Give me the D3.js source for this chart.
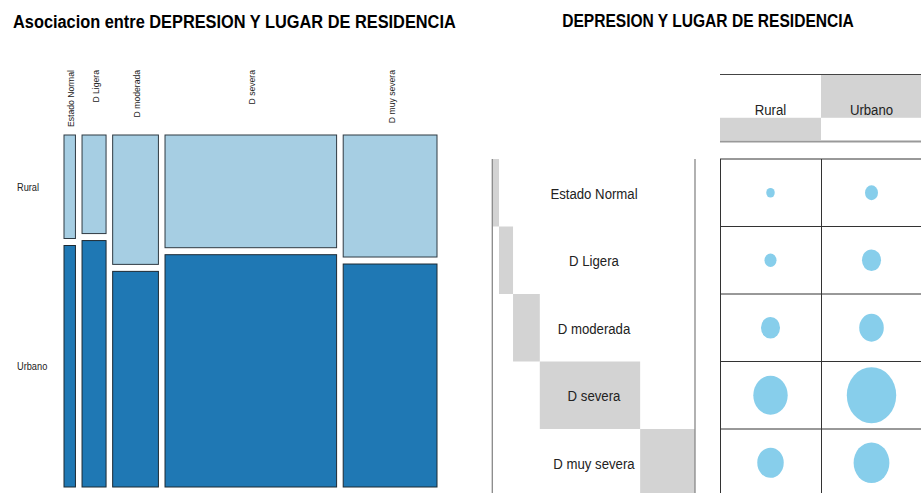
<!DOCTYPE html>
<html>
<head>
<meta charset="utf-8">
<script src="https://cdn.jsdelivr.net/npm/d3@7"></script>
<style>
  body { margin: 0; background: #fff; }
  svg { display: block; font-family: "Liberation Sans", Arial, sans-serif; }
</style>
</head>
<body>
<svg id="chart" width="921" height="493"></svg>
<script>
// depresion levels (columns of the mosaic, rows of the balloon table)
const categories = ["Estado Normal", "D Ligera", "D moderada", "D severa", "D muy severa"]
const residencia = ["Rural", "Urbano"]
// counts per level
const rural = [3, 6, 15, 49, 29]
const urbano = [7, 15, 25, 101, 53]

const svg = d3.select("#chart")
const squeeze = 0.88 // the original picture is a bit narrower than it is tall

const colTotals = categories.map((c, i) => rural[i] + urbano[i])
const total = d3.sum(colTotals)
const cum = [0].concat(Array.from(d3.cumsum(colTotals)))

//helper for narrow text (rotated text is narrowed along its length too)
const txt = (g, x, y, s, size, opts = {}) => {
    return g.append("text")
        .attr("transform", `translate(${x},${y}) ${opts.rot ? "rotate(-90) " : ""}scale(${squeeze},1)`)
        .attr("text-anchor", opts.anchor || "middle")
        .attr("dominant-baseline", opts.baseline || "auto")
        .attr("font-size", size)
        .attr("font-weight", opts.bold ? "bold" : "normal")
        .attr("fill", opts.fill || "#1a1a1a")
        .text(s)
}

// ---------------- LEFT: mosaic plot ----------------
const mx0 = 64, mx1 = 437, my0 = 135, my1 = 487, gapX = 6.6, gapY = 7
const left = svg.append("g")

txt(left, 13, 28, "Asociacion entre DEPRESION Y LUGAR DE RESIDENCIA", 18.6, {anchor: "start", bold: true, fill: "#000"})

const wScale = d3.scaleLinear().domain([0, total]).range([0, (mx1 - mx0) - gapX * (categories.length - 1)])
const hScale = d3.scaleLinear().domain([0, 1]).range([0, (my1 - my0) - gapY])

const cols = categories.map((c, i) => {
    const x = mx0 + wScale(cum[i]) + i * gapX
    const w = wScale(colTotals[i])
    const fr = rural[i] / colTotals[i]
    return {name: c, x, w, fr}
})

const cg = left.selectAll("g.col").data(cols).enter().append("g").attr("class", "col")
cg.append("rect")
    .attr("x", d => d.x).attr("y", my0)
    .attr("width", d => d.w).attr("height", d => hScale(d.fr))
    .attr("fill", "#a6cee3").attr("stroke", "#2f3a42").attr("stroke-width", 1)
cg.append("rect")
    .attr("x", d => d.x).attr("y", d => my0 + hScale(d.fr) + gapY)
    .attr("width", d => d.w).attr("height", d => hScale(1 - d.fr))
    .attr("fill", "#1f78b4").attr("stroke", "#1d2a33").attr("stroke-width", 1)

cols.forEach(d => {
    txt(left, d.x + d.w / 2 + 1.5, 70, d.name, 9.8, {rot: true, anchor: "end", baseline: "central", fill: "#222"})
})

// row labels of the mosaic
const ruralAll = d3.sum(rural) / total
txt(left, 17, my0 + hScale(ruralAll) / 2 - 6, "Rural", 10.5, {anchor: "start", baseline: "central", fill: "#222"})
txt(left, 17, my0 + hScale(ruralAll) + gapY + hScale(1 - ruralAll) / 2 - 6, "Urbano", 10.5, {anchor: "start", baseline: "central", fill: "#222"})

// ---------------- RIGHT: balloon plot ----------------
const right = svg.append("g")
txt(right, 708, 27, "DEPRESION Y LUGAR DE RESIDENCIA", 17.7, {bold: true, fill: "#000"})

const colBand = d3.scaleBand().domain(residencia).range([720, 922])
const rowBand = d3.scaleBand().domain(categories).range([159, 159 + 5 * 67.5])
const values = [rural, urbano]
const rScale = d3.scaleSqrt().domain([0, d3.max(values.flat())]).range([0, 24.7])

// column marginals (stacked grey bars in header)
const resTotals = values.map(v => d3.sum(v))
const cScale = d3.scaleLinear().domain([0, total]).range([140, 74])
const resCum = [0].concat(Array.from(d3.cumsum(resTotals)))
right.selectAll("rect.cm").data(residencia).enter().append("rect")
    .attr("class", "cm")
    .attr("x", d => colBand(d)).attr("width", colBand.bandwidth())
    .attr("y", (d, i) => cScale(resCum[i + 1]))
    .attr("height", (d, i) => cScale(resCum[i]) - cScale(resCum[i + 1]))
    .attr("fill", "#d3d3d3")

residencia.forEach(r => txt(right, colBand(r) + colBand.bandwidth() / 2, 115, r, 15, {fill: "#222"}))

right.append("line").attr("x1", 720).attr("x2", 922).attr("y1", 74.5).attr("y2", 74.5)
    .attr("stroke", "#444").attr("stroke-width", 1)
right.append("line").attr("x1", 720).attr("x2", 922).attr("y1", 141.5).attr("y2", 141.5)
    .attr("stroke", "#999").attr("stroke-width", 2)

// row marginals (staircase grey bars)
const mScale = d3.scaleLinear().domain([0, total]).range([492.3, 695])
right.selectAll("rect.rm").data(categories).enter().append("rect")
    .attr("class", "rm")
    .attr("x", (d, i) => mScale(cum[i]))
    .attr("width", (d, i) => mScale(cum[i + 1]) - mScale(cum[i]))
    .attr("y", d => rowBand(d)).attr("height", rowBand.bandwidth())
    .attr("fill", "#d3d3d3")

categories.forEach(c => txt(right, 594, rowBand(c) + rowBand.bandwidth() / 2 + 6, c, 15, {fill: "#222"}))

right.selectAll("line.rl").data([492.3, 695]).enter().append("line")
    .attr("class", "rl")
    .attr("x1", d => d).attr("x2", d => d).attr("y1", 159).attr("y2", 493)
    .attr("stroke", "#888").attr("stroke-width", 1.3)

// grid
const rowEdges = categories.map(c => rowBand(c)).concat([rowBand.range()[1]])
right.selectAll("line.h").data(rowEdges).enter().append("line")
    .attr("class", "h")
    .attr("x1", 720).attr("x2", 922).attr("y1", d => d).attr("y2", d => d)
    .attr("stroke", "#333").attr("stroke-width", 1)
right.selectAll("line.v").data(residencia).enter().append("line")
    .attr("class", "v")
    .attr("x1", d => colBand(d) + 0.5).attr("x2", d => colBand(d) + 0.5).attr("y1", 159).attr("y2", 493)
    .attr("stroke", "#333").attr("stroke-width", 1)

// balloons
residencia.forEach((r, j) => {
    right.append("g").selectAll("ellipse").data(values[j]).enter().append("ellipse")
        .attr("cx", colBand(r) + colBand.bandwidth() / 2)
        .attr("cy", (v, i) => rowBand(categories[i]) + rowBand.bandwidth() / 2)
        .attr("rx", v => rScale(v))
        .attr("ry", v => rScale(v) / squeeze)
        .attr("fill", "#87ceeb")
})
</script>
</body>
</html>
